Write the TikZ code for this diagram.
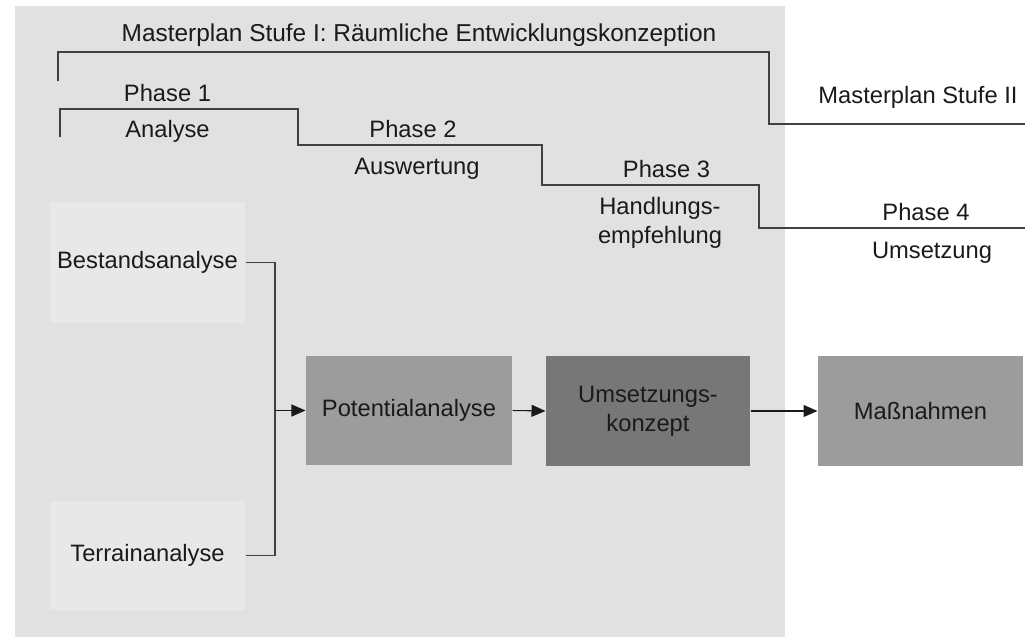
\documentclass[tikz,border=0pt]{standalone}
\usepackage{fontspec}
\setmainfont{Liberation Sans}
\usetikzlibrary{arrows.meta}
\definecolor{hgrund}{HTML}{E1E1E1}
\definecolor{hell}{HTML}{E8E8E8}
\definecolor{mittel}{HTML}{9C9C9C}
\definecolor{dunkel}{HTML}{777777}
\definecolor{linie}{HTML}{404040}
\definecolor{schrift}{HTML}{1A1A1A}

\begin{document}
\begin{tikzpicture}[x=0.02cm,y=-0.02cm,line width=0.6pt,>={Triangle[length=2.8mm,width=2.4mm]},
  every node/.style={font=\fontsize{13.5}{16.7}\selectfont,text=schrift},
  box/.style={rectangle,inner sep=0pt,align=center,minimum width=4.1cm,minimum height=2.2cm},
  lbl/.style={anchor=base}]
  \useasboundingbox (0,0) rectangle (1025,638);
  % Hintergrund Stufe I
  \fill[hgrund] (15,6) rectangle (785,637);
  % Masterplan Stufen
  \draw[linie] (58,81)--(58,52)--(769,52)--(769,124)--(1025,124);
  \node[lbl,font=\fontsize{13.9}{16.7}\selectfont] (stufe1) at (419,42) {Masterplan Stufe I: R\"aumliche Entwicklungskonzeption};
  \node[lbl] (stufe2) at (918,104) {Masterplan Stufe II};
  % Phasen als Treppe
  \draw[linie] (60,137)--(60,109)--(298,109)--(298,145)--(542,145)--(542,185)
    --(759,185)--(759,228)--(1025,228);
  \node[lbl] (ph1) at (167.5,101.5) {Phase 1};
  \node[lbl] (ph1name) at (167.5,137.5) {Analyse};
  \node[lbl] (ph2) at (413,137.5) {Phase 2};
  \node[lbl] (ph2name) at (417,175) {Auswertung};
  \node[lbl] (ph3) at (666.5,177.5) {Phase 3};
  \node[align=center,inner sep=0pt] (ph3name) at (660,223) {Handlungs-\\empfehlung};
  \node[lbl] (ph4) at (926,221) {Phase 4};
  \node[lbl] (ph4name) at (932,259) {Umsetzung};
  % Kaesten
  \node[box,fill=hell,minimum width=3.9cm,minimum height=2.42cm] (best) at (147.5,262.5) {Bestandsanalyse};
  \node[box,fill=hell,minimum width=3.9cm,minimum height=2.18cm] (terr) at (147.5,555.5) {Terrainanalyse};
  \node[box,fill=mittel,minimum width=4.12cm,minimum height=2.18cm] (pot) at (409,410.5) {Potentialanalyse};
  \node[box,fill=dunkel,minimum width=4.08cm] (umk) at (648,411) {Umsetzungs-\\konzept};
  \node[box,fill=mittel] (mass) at (920.5,411) {Ma\ss nahmen};
  % Verbindungen
  \coordinate (knoten) at (275,410.5);
  \draw[linie] (best.east) -| (knoten);
  \draw[linie] (terr.east) -| (knoten);
  \draw[->,schrift] (knoten)--(pot.west);
  \draw[->,schrift] (pot.east)--(umk.west);
  \draw[->,schrift] (umk.east)--(mass.west);
\end{tikzpicture}
\end{document}
